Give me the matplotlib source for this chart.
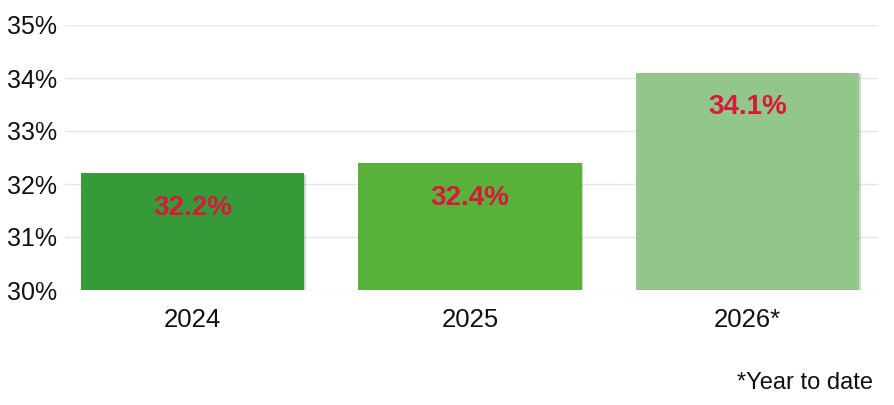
import matplotlib.pyplot as plt
import matplotlib.patheffects as pe

# data
years = ['2024', '2025', '2026*']
rates = [32.2, 32.4, 34.1]
bar_colors = ['#379a39', '#58b13a', '#92c68b']
y_ticks = [30, 31, 32, 33, 34, 35]

plt.rcParams['font.family'] = ['Liberation Sans', 'DejaVu Sans']

fig = plt.figure(figsize=(8.95, 4.05), dpi=100)
ax = fig.add_axes([65 / 895, 1 - 290 / 405, (878 - 65) / 895, (290 - 25) / 405])

x = list(range(len(years)))
bars = ax.bar(x, [r - 30 for r in rates], bottom=30, width=0.805, color=bar_colors,
              zorder=3, edgecolor='none')
for b in bars:
    b.set_path_effects([pe.SimplePatchShadow(offset=(1, -1), alpha=0.25, shadow_rgbFace='#555555'),
                        pe.Normal()])

for xi, r in zip(x, rates):
    ax.annotate(f'{r:.1f}%', (xi, r), xytext=(0, -25), textcoords='offset points',
                ha='center', va='center', fontsize=20, fontweight='bold', color='#d7193a',
                zorder=4)

ax.set_ylim(30, 35)
ax.set_xlim(-0.459, 2.47)
ax.set_yticks(y_ticks)
ax.set_yticklabels([f'{t}%' for t in y_ticks])
ax.set_xticks(x)
ax.set_xticklabels(years)
ax.yaxis.grid(True, color='#e6e6e6', linewidth=1, zorder=0)
for s in ax.spines.values():
    s.set_visible(False)
ax.tick_params(axis='both', length=0, colors='#111111')
ax.tick_params(axis='y', pad=6, labelsize=18)
ax.tick_params(axis='x', pad=13, labelsize=18.5)

fig.text(873 / 895, 1 - 383 / 405, '*Year to date', ha='right', va='center', fontsize=17,
         color='#111111')

fig.savefig('out.png', dpi=100)
